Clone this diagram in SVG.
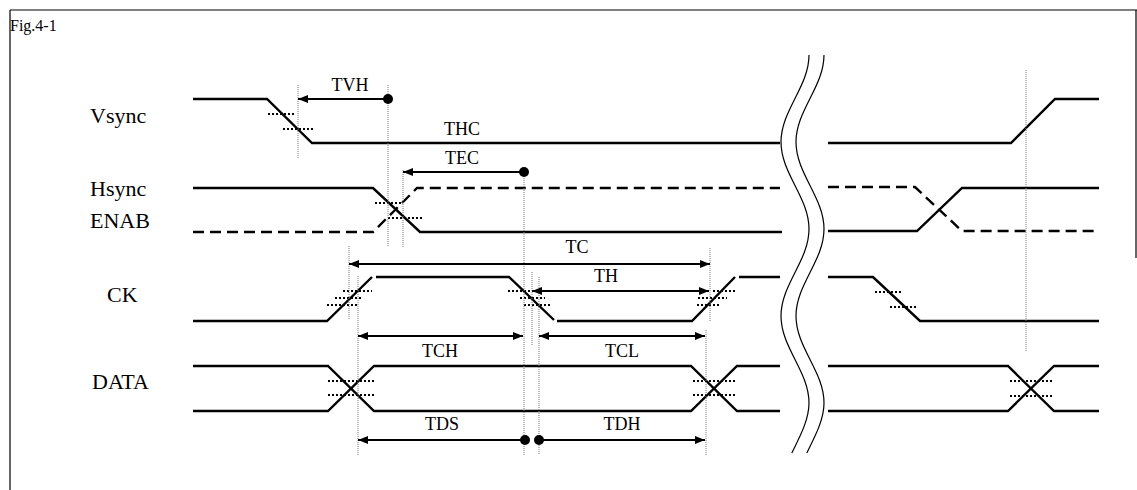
<svg xmlns="http://www.w3.org/2000/svg" width="1137" height="490" viewBox="0 0 1137 490">
<style>
.sig{stroke:#000;stroke-width:2.4;fill:none}
.dsh{stroke-dasharray:11 6}
.dt{stroke:#000;stroke-width:2;stroke-dasharray:2 2;fill:none}
.vd{stroke:#777;stroke-width:1;stroke-dasharray:1 1;fill:none}
.arr{stroke:#000;stroke-width:1.8;fill:none}
.brk{stroke:#000;stroke-width:1.2;fill:none}
.frm{stroke:#000;stroke-width:1.2;fill:none}
.lbl{font-family:"Liberation Serif",serif;font-size:22px;fill:#000}
.tl{font-family:"Liberation Serif",serif;font-size:18px;fill:#000;text-anchor:middle}
</style>
<defs>
<marker id="ah" markerUnits="userSpaceOnUse" markerWidth="11" markerHeight="9" refX="10" refY="4" orient="auto-start-reverse">
<path d="M0,0 L10,4 L0,8 z" fill="#000"/>
</marker>
</defs>
<rect width="1137" height="490" fill="#fff"/>
<g id="frame">
<path class="frm" d="M10,10 H1137 M10,10 V490 M1136,10 V258"/>
<text x="10" y="31" font-family="Liberation Serif, serif" font-size="16">Fig.4-1</text>
</g>
<g id="labels">
<text class="lbl" x="90" y="123">Vsync</text>
<text class="lbl" x="90" y="196">Hsync</text>
<text class="lbl" x="90" y="228">ENAB</text>
<text class="lbl" x="107" y="302">CK</text>
<text class="lbl" x="92" y="389">DATA</text>
</g>
<g id="vsync">
<path class="sig" d="M193,99 H267 L312,143 H780"/>
<path class="sig" d="M828,143 H1011 L1055,99 H1099"/>
<path class="dt" d="M268,114 H296 M283,129 H313"/>
</g>
<g id="hsync">
<path class="sig" d="M193,188 H373 L420,232 H782"/>
<path class="sig" d="M828,231 H917 L962,188 H1099"/>
</g>
<g id="enab">
<path class="sig dsh" d="M193,232 H373 L417,188 H780"/>
<path class="sig dsh" d="M828,187 H915 L962,231 H1095"/>
<path class="dt" d="M375,203 H403 M388,218 H422"/>
</g>
<g id="ck">
<path class="sig" d="M193,321 H327 L372,277 M376,277 H509 L554,320 M557,321 H692 L735,277 M739,277 H780"/>
<path class="sig" d="M828,277 H873 L920,321 H1099"/>
<path class="dt" d="M343,291 H372 M335,298 H362 M327,305 H357 M508,291 H533 M520,298 H545 M524,305 H552 M713,291 H735 M698,298 H727 M697,305 H720 M875,292 H902 M890,307 H917"/>
</g>
<g id="data">
<path class="sig" d="M193,366 H328 L374,411 H691 L737,366 H780 M193,411 H328 L374,366 H691 L737,411 H780"/>
<path class="sig" d="M828,366 H1008 L1054,411 H1099 M828,411 H1008 L1054,366 H1099"/>
<path class="dt" d="M328,381 H374 M328,395 H374 M693,381 H737 M693,395 H737 M1010,381 H1054 M1010,396 H1054"/>
</g>
<g id="break">
<path class="brk" d="M809,55 C809,86.6 781,110.4 781,142 C781,173.6 809,197.4 809,229 C809,260.6 781,284.4 781,316 C781,347.6 809,371.4 809,403 C809,419.7 800,436.3 791.8,453"/>
<path class="brk" d="M824,55 C824,86.6 796,110.4 796,142 C796,173.6 824,197.4 824,229 C824,260.6 796,284.4 796,316 C796,347.6 824,371.4 824,403 C824,419.7 815,436.3 806.8,453"/>
</g>
<g id="guides">
<path class="vd" d="M298,85 V159 M388,85 V247 M403,170 V247 M524,172 V455 M349,246 V320 M358,276 V455 M532,272 V345 M539,277 V455 M710,248 V322 M706,330 V455 M1026,70 V351"/>
</g>
<g id="connectors">
<line class="arr" x1="388" y1="99" x2="298" y2="99" marker-end="url(#ah)"/>
<circle cx="388" cy="99" r="5"/>
<line class="arr" x1="524" y1="172" x2="403" y2="172" marker-end="url(#ah)"/>
<circle cx="524" cy="172" r="5"/>
<line class="arr" x1="349" y1="264" x2="710" y2="264" marker-start="url(#ah)" marker-end="url(#ah)"/>
<line class="arr" x1="532" y1="291" x2="709" y2="291" marker-start="url(#ah)" marker-end="url(#ah)"/>
<line class="arr" x1="358" y1="336" x2="523" y2="336" marker-start="url(#ah)" marker-end="url(#ah)"/>
<line class="arr" x1="539" y1="336" x2="705" y2="336" marker-start="url(#ah)" marker-end="url(#ah)"/>
<line class="arr" x1="525" y1="440" x2="358" y2="440" marker-end="url(#ah)"/>
<circle cx="525" cy="440" r="5"/>
<line class="arr" x1="539" y1="440" x2="705" y2="440" marker-end="url(#ah)"/>
<circle cx="539" cy="440" r="5"/>
</g>
<g id="timing-labels">
<text class="tl" x="350" y="91">TVH</text>
<text class="tl" x="462" y="135">THC</text>
<text class="tl" x="462" y="164">TEC</text>
<text class="tl" x="577" y="253">TC</text>
<text class="tl" x="606" y="282">TH</text>
<text class="tl" x="440" y="357">TCH</text>
<text class="tl" x="622" y="357">TCL</text>
<text class="tl" x="442" y="430">TDS</text>
<text class="tl" x="622" y="430">TDH</text>
</g>
</svg>
